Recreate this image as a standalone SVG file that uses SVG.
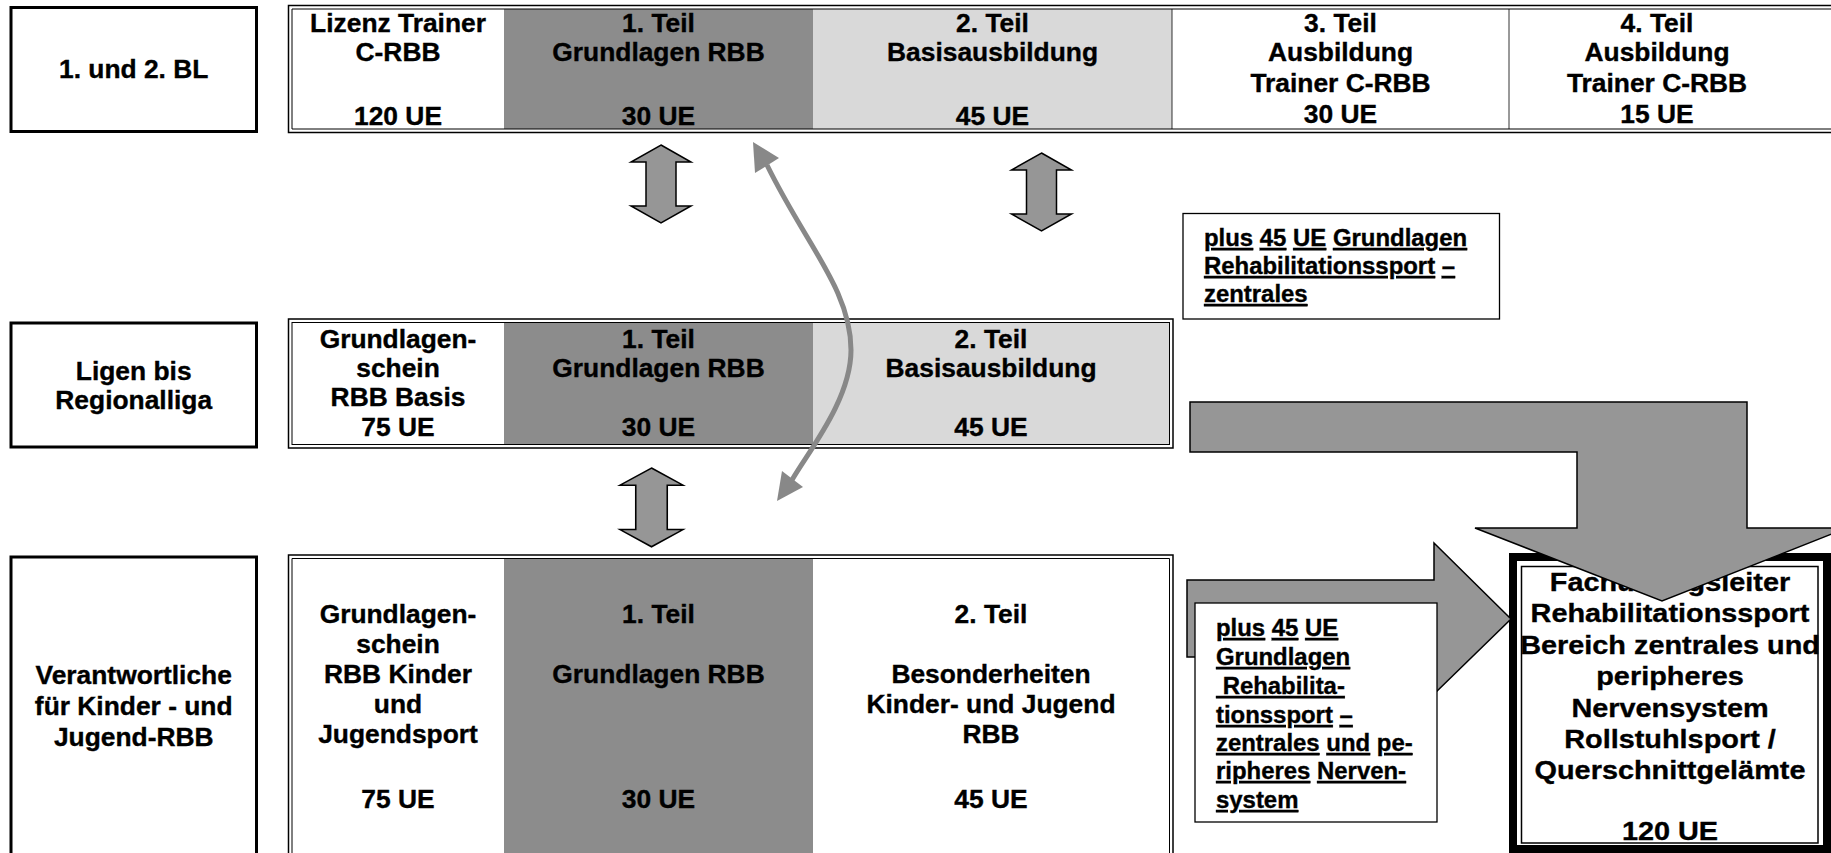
<svg xmlns="http://www.w3.org/2000/svg" width="1831" height="853" viewBox="0 0 1831 853">
<style>
text{font-family:"Liberation Sans",Arial,sans-serif;font-weight:bold;fill:#000;stroke:#000;stroke-width:0.35}
.c{font-size:25px;text-anchor:middle}
.s{font-size:23px}
.b{font-size:26px;text-anchor:middle}
.u{text-decoration:underline}
.lbl{fill:#fff;stroke:#000;stroke-width:3}
.ol{fill:none;stroke:#000;stroke-width:1.5}
.il{fill:none;stroke:#000;stroke-width:1}
.dk{fill:#8c8c8c}
.lt{fill:#d9d9d9}
.wh{fill:#fff}
.sep{stroke:#000;stroke-width:0.8}
.ud{fill:#969696;stroke:#000;stroke-width:1.5}
.blk{fill:#969696;stroke:#000;stroke-width:1.5;stroke-linejoin:miter}
.crv{fill:none;stroke:#888;stroke-width:5}
.hd{fill:#888}
.box{fill:#fff;stroke:#000;stroke-width:1.3}
</style>
<defs>
<path id="ud" d="M0,0 L30,17 L15,17 L15,61 L30,61 L0,78 L-30,61 L-15,61 L-15,17 L-30,17 Z"/>
</defs>
<rect width="1831" height="853" fill="#fff"/>

<!-- Row 1 table -->
<g id="row1-table">
<rect class="wh" x="292" y="9" width="1545" height="120"/>
<rect class="dk" x="504" y="9" width="309" height="120"/>
<rect class="lt" x="813" y="9" width="359" height="120"/>
<line class="sep" x1="1172" y1="9" x2="1172" y2="129"/>
<line class="sep" x1="1509" y1="9" x2="1509" y2="129"/>
<path class="ol" d="M1840,5.5 H288.5 V132.5 H1840"/>
<path class="il" d="M1840,9 H292 V129 H1840"/>
</g>
<g id="r1c1" transform="translate(398,0) scale(1.055,1)">
<text class="c" x="0" y="32">Lizenz Trainer</text><text class="c" x="0" y="61">C-RBB</text><text class="c" x="0" y="125">120 UE</text></g>
<g id="r1c2" transform="translate(658.5,0) scale(1.055,1)">
<text class="c" x="0" y="32">1. Teil</text><text class="c" x="0" y="61">Grundlagen RBB</text><text class="c" x="0" y="125">30 UE</text></g>
<g id="r1c3" transform="translate(992.5,0) scale(1.055,1)">
<text class="c" x="0" y="32">2. Teil</text><text class="c" x="0" y="61">Basisausbildung</text><text class="c" x="0" y="125">45 UE</text></g>
<g id="r1c4" transform="translate(1340.5,0) scale(1.055,1)">
<text class="c" x="0" y="32">3. Teil</text><text class="c" x="0" y="61">Ausbildung</text><text class="c" x="0" y="92">Trainer C-RBB</text><text class="c" x="0" y="123">30 UE</text></g>
<g id="r1c5" transform="translate(1657,0) scale(1.055,1)">
<text class="c" x="0" y="32">4. Teil</text><text class="c" x="0" y="61">Ausbildung</text><text class="c" x="0" y="92">Trainer C-RBB</text><text class="c" x="0" y="123">15 UE</text></g>

<!-- Row 2 table -->
<g id="row2-table">
<rect class="wh" x="292" y="322.5" width="877.5" height="122"/>
<rect class="dk" x="504" y="322.5" width="309" height="122"/>
<rect class="lt" x="813" y="322.5" width="356.5" height="122"/>
<rect class="ol" x="288.5" y="319" width="884.5" height="129"/>
<rect class="il" x="292" y="322.5" width="877.5" height="122"/>
</g>
<g id="r2c1" transform="translate(398,0) scale(1.055,1)">
<text class="c" x="0" y="348">Grundlagen-</text><text class="c" x="0" y="377">schein</text><text class="c" x="0" y="406">RBB Basis</text><text class="c" x="0" y="436">75 UE</text></g>
<g id="r2c2" transform="translate(658.5,0) scale(1.055,1)">
<text class="c" x="0" y="348">1. Teil</text><text class="c" x="0" y="377">Grundlagen RBB</text><text class="c" x="0" y="436">30 UE</text></g>
<g id="r2c3" transform="translate(991,0) scale(1.055,1)">
<text class="c" x="0" y="348">2. Teil</text><text class="c" x="0" y="377">Basisausbildung</text><text class="c" x="0" y="436">45 UE</text></g>

<!-- Row 3 table -->
<g id="row3-table">
<rect class="wh" x="292" y="558.5" width="877.5" height="300"/>
<rect class="dk" x="504" y="558.5" width="309" height="300"/>
<path class="ol" d="M288.5,860 V555 H1173 V860"/>
<path class="il" d="M292,860 V558.5 H1169.5 V860"/>
</g>
<g id="r3c1" transform="translate(398,0) scale(1.055,1)">
<text class="c" x="0" y="623">Grundlagen-</text><text class="c" x="0" y="653">schein</text><text class="c" x="0" y="683">RBB Kinder</text><text class="c" x="0" y="713">und</text><text class="c" x="0" y="743">Jugendsport</text><text class="c" x="0" y="808">75 UE</text></g>
<g id="r3c2" transform="translate(658.5,0) scale(1.055,1)">
<text class="c" x="0" y="623">1. Teil</text><text class="c" x="0" y="683">Grundlagen RBB</text><text class="c" x="0" y="808">30 UE</text></g>
<g id="r3c3" transform="translate(991,0) scale(1.055,1)">
<text class="c" x="0" y="623">2. Teil</text><text class="c" x="0" y="683">Besonderheiten</text><text class="c" x="0" y="713">Kinder- und Jugend</text><text class="c" x="0" y="743">RBB</text><text class="c" x="0" y="808">45 UE</text></g>

<!-- Left labels -->
<g id="label-bl">
<rect class="lbl" x="11" y="7.5" width="245.5" height="124"/>
<g transform="translate(133.7,0) scale(1.055,1)"><text class="c" x="0" y="78">1. und 2. BL</text></g></g>
<g id="label-regionalliga">
<rect class="lbl" x="11" y="323" width="245.5" height="124"/>
<g transform="translate(133.7,0) scale(1.055,1)"><text class="c" x="0" y="380">Ligen bis</text><text class="c" x="0" y="409">Regionalliga</text></g></g>
<g id="label-jugend">
<rect class="lbl" x="11" y="557" width="245.5" height="310"/>
<g transform="translate(133.7,0) scale(1.055,1)"><text class="c" x="0" y="684">Verantwortliche</text><text class="c" x="0" y="715">für Kinder - und</text><text class="c" x="0" y="746">Jugend-RBB</text></g></g>

<!-- upper plus box -->
<g id="plus-box-top">
<rect class="box" x="1183" y="213.5" width="316.5" height="105.5"/>
<g transform="translate(1204,0) scale(1.04,1)">
<text class="s" x="0" y="246"><tspan class="u">plus</tspan> <tspan class="u">45</tspan> <tspan class="u">UE</tspan> <tspan class="u">Grundlagen</tspan></text>
<text class="s" x="0" y="274"><tspan class="u">Rehabilitationssport</tspan> <tspan class="u">–</tspan></text>
<text class="s" x="0" y="302"><tspan class="u">zentrales</tspan></text>
</g></g>

<!-- Fachübungsleiter box -->
<g id="fachuebungsleiter">
<rect x="1513" y="557" width="314" height="292" fill="#fff" stroke="#000" stroke-width="8"/>
<rect x="1521.5" y="566.5" width="296.5" height="276.5" fill="none" stroke="#000" stroke-width="1.5"/>
<g transform="translate(1670,0) scale(1.11,1)">
<text class="b" x="0" y="591">Fachübungsleiter</text>
<text class="b" x="0" y="622">Rehabilitationssport</text>
<text class="b" x="0" y="654">Bereich zentrales und</text>
<text class="b" x="0" y="685">peripheres</text>
<text class="b" x="0" y="717">Nervensystem</text>
<text class="b" x="0" y="748">Rollstuhlsport /</text>
<text class="b" x="0" y="779">Querschnittgelämte</text>
<text class="b" x="0" y="840">120 UE</text>
</g></g>

<!-- connectors -->
<g id="connectors">
<use href="#ud" class="ud" transform="translate(661,145)"/>
<use href="#ud" class="ud" transform="translate(1041.5,153)"/>
<use href="#ud" class="ud" transform="translate(651.5,468) scale(1.05,1.01)"/>
<path class="crv" d="M767,165 C806,245 851,290 851,350 C851,400 808,452 792,480"/>
<polygon class="hd" points="753,142 755,173 779,158"/>
<polygon class="hd" points="777,501 782,471 803,487"/>
<polygon class="blk" points="1190,402 1747,402 1747,528 1847,528 1662,601 1475,528 1577,528 1577,452 1190,452"/>
<polygon class="blk" points="1187,580 1434,580 1434,543 1511,619 1434,694 1434,657 1187,657"/>
</g>

<!-- lower plus box -->
<g id="plus-box-bottom">
<rect class="box" x="1195" y="603" width="242" height="219"/>
<g transform="translate(1216,0) scale(1.04,1)">
<text class="s" x="0" y="636"><tspan class="u">plus</tspan> <tspan class="u">45</tspan> <tspan class="u">UE</tspan></text>
<text class="s" x="0" y="665"><tspan class="u">Grundlagen</tspan></text>
<text class="s" x="0" y="694" style="white-space:pre"><tspan class="u"> Rehabilita-</tspan></text>
<text class="s" x="0" y="723"><tspan class="u">tionssport</tspan> <tspan class="u">–</tspan></text>
<text class="s" x="0" y="751"><tspan class="u">zentrales</tspan> <tspan class="u">und</tspan> <tspan class="u">pe-</tspan></text>
<text class="s" x="0" y="779"><tspan class="u">ripheres</tspan> <tspan class="u">Nerven-</tspan></text>
<text class="s" x="0" y="808"><tspan class="u">system</tspan></text>
</g></g>
</svg>
